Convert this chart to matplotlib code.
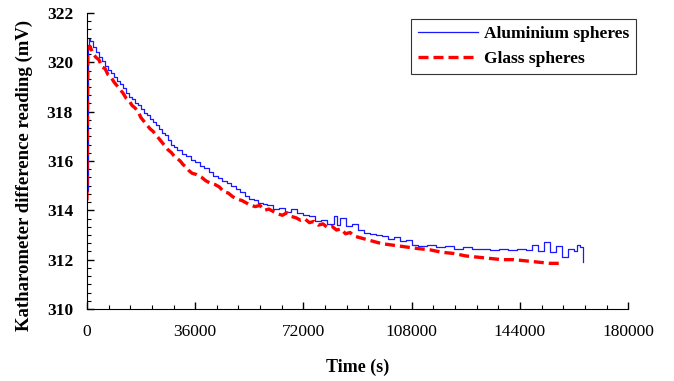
import matplotlib
matplotlib.use('Agg')
import matplotlib.pyplot as plt
from matplotlib.ticker import MultipleLocator

plt.rcParams['font.family'] = ['Liberation Serif', 'DejaVu Serif']

# Aluminium spheres run (time in s, reading in mV)
alu_time = [0, 300, 700, 1000, 2000, 3000, 4000, 5000, 6000, 7000, 8000,
            9000, 10000, 11000, 12000, 13000, 14000, 15000, 16000, 17000,
            18000, 19000, 20000, 21000, 22000, 23000, 24000, 25000, 26000,
            27000, 28000, 29000, 30000, 31500, 33000, 34500, 36000, 37500,
            39000, 40500, 42000, 43500, 45000, 46500, 48000, 49500, 51000,
            52500, 54000, 55500, 57000, 58500, 60000, 62000, 64000, 66000,
            68000, 70000, 72000, 74000, 76000, 78000, 80000, 82000, 83000,
            84000, 86000, 88000, 90000, 92000, 94000, 96000, 98000, 100000,
            102000, 104000, 106000, 108000, 110000, 113000, 116000, 119000,
            122000, 125000, 128000, 131000, 134000, 137000, 140000, 143000,
            146000, 148000, 150000, 152000, 154000, 156000, 158000, 160000,
            162000, 163000, 164000, 165000]
alu_mv = [314.8, 320.7, 320.95, 320.85, 320.6, 320.4, 320.2, 320.05, 319.85,
          319.7, 319.55, 319.4, 319.25, 319.1, 318.95, 318.75, 318.6, 318.5,
          318.35, 318.25, 318.1, 317.95, 317.85, 317.7, 317.6, 317.45, 317.3,
          317.15, 317.05, 316.85, 316.65, 316.55, 316.45, 316.3, 316.2, 316.05,
          315.95, 315.8, 315.7, 315.55, 315.4, 315.3, 315.2, 315.1, 315.0,
          314.85, 314.75, 314.6, 314.45, 314.4, 314.3, 314.25, 314.2, 314.05,
          314.1, 313.95, 314.05, 313.9, 313.8, 313.75, 313.55, 313.6, 313.45,
          313.75, 313.4, 313.7, 313.35, 313.45, 313.2, 313.1, 313.05, 313.0,
          312.95, 312.85, 312.9, 312.75, 312.8, 312.6, 312.55, 312.6, 312.5,
          312.55, 312.45, 312.5, 312.45, 312.45, 312.4, 312.45, 312.4, 312.45,
          312.4, 312.6, 312.35, 312.7, 312.3, 312.55, 312.1, 312.45, 312.35,
          312.6, 312.5, 311.9]

# Glass spheres run
glass_time = [0, 300, 1000, 2000, 3000, 4000, 5000, 6000, 7000, 8000, 9000,
              10000, 11000, 12000, 13000, 14000, 15000, 16000, 17000, 18000,
              19000, 20000, 21000, 22000, 23000, 24000, 25000, 26000, 27000,
              28000, 29000, 30000, 31000, 32000, 33000, 34000, 35000, 36500,
              38000, 39500, 41000, 42500, 44000, 45500, 47000, 48500, 50000,
              51500, 53000, 54500, 56000, 57500, 59000, 60500, 62000, 63500,
              65000, 66500, 68000, 69500, 71000, 72500, 74000, 75500, 77000,
              78500, 80000, 81500, 83000, 84500, 86000, 87500, 89000, 90500,
              92000, 95000, 98000, 101000, 104000, 107000, 110000, 114000,
              118000, 122000, 126000, 130000, 134000, 138000, 142000, 146000,
              150000, 154000, 157000]
glass_mv = [314.4, 320.5, 320.65, 320.35, 320.2, 320.1, 319.8, 319.75, 319.5,
            319.4, 319.2, 319.05, 318.9, 318.75, 318.55, 318.45, 318.25, 318.15,
            318.0, 317.75, 317.6, 317.45, 317.3, 317.2, 317.05, 316.9, 316.75,
            316.6, 316.45, 316.35, 316.2, 316.1, 316.0, 315.85, 315.75, 315.6,
            315.5, 315.45, 315.35, 315.2, 315.1, 315.05, 314.95, 314.75, 314.7,
            314.55, 314.45, 314.4, 314.3, 314.2, 314.15, 314.2, 314.0, 314.05,
            313.95, 313.85, 313.8, 313.9, 313.75, 313.7, 313.6, 313.65, 313.5,
            313.55, 313.4, 313.45, 313.3, 313.35, 313.2, 313.25, 313.05, 313.1,
            312.95, 312.9, 312.85, 312.75, 312.65, 312.6, 312.55, 312.5, 312.45,
            312.4, 312.3, 312.25, 312.15, 312.1, 312.05, 312.0, 312.0, 311.95,
            311.9, 311.85, 311.85]

fig = plt.figure(figsize=(6.74, 3.81), dpi=100)
ax = fig.add_axes([0.129, 0.189, 0.803, 0.777])

ax.plot(alu_time, alu_mv, color='#1a1aff', linewidth=0.9,
        drawstyle='steps-post', label='Aluminium spheres')
ax.plot(glass_time, glass_mv, color='#ff0000', linewidth=2.4,
        linestyle=(0, (3, 1.5)), label='Glass spheres')

ax.set_xlim(0, 180000)
ax.set_ylim(310, 322)
ax.xaxis.set_major_locator(MultipleLocator(36000))
ax.xaxis.set_minor_locator(MultipleLocator(7200))
ax.yaxis.set_major_locator(MultipleLocator(2))
ax.yaxis.set_minor_locator(MultipleLocator(1 / 3))

ax.spines['top'].set_visible(False)
ax.spines['right'].set_visible(False)
ax.tick_params(which='major', direction='in', length=5, width=1, pad=11,
               labelsize=12.5)
ax.tick_params(axis='y', which='major', pad=10)
ax.tick_params(which='minor', direction='in', length=3, width=0.8)
for lbl in ax.get_yticklabels():
    lbl.set_fontweight('bold')

ax.set_xlabel('Time (s)', fontsize=13, fontweight='bold', labelpad=13)
ax.set_ylabel('Katharometer difference reading (mV)', fontsize=13.5,
              fontweight='bold')
ax.yaxis.set_label_coords(-0.100, 0.45)

leg = ax.legend(loc='upper right', bbox_to_anchor=(1.03, 1.01),
                prop={'weight': 'bold', 'size': 12.5}, fancybox=False,
                edgecolor='black', handlelength=3.5, handletextpad=0.3,
                borderpad=0.4, labelspacing=0.5)
leg.get_frame().set_linewidth(0.8)

fig.savefig('out.png', dpi=100)
plt.close(fig)
